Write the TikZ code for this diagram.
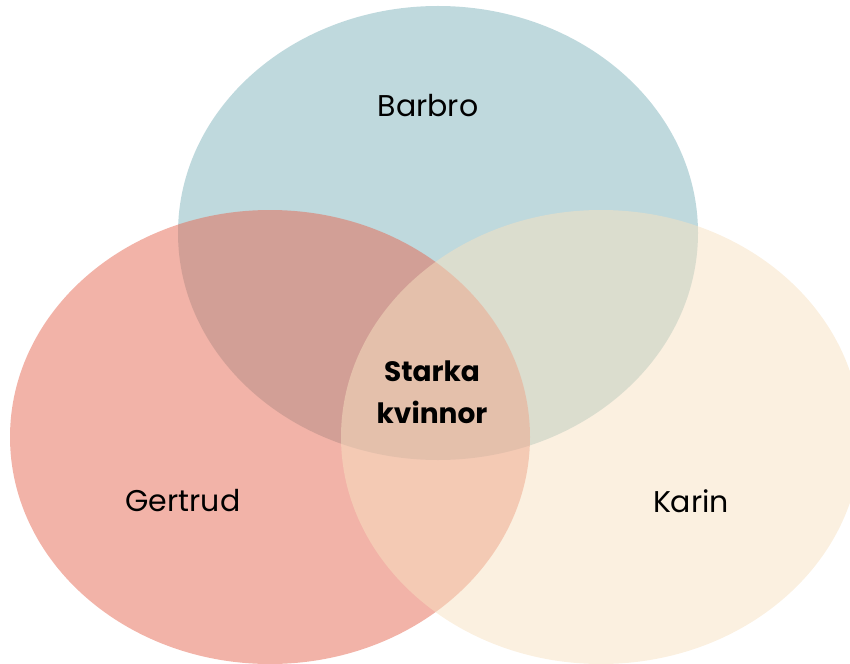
\documentclass[tikz,border=0pt]{standalone}
\usepackage{fontspec}
\setmainfont{Poppins}
\definecolor{cblue}{RGB}{191,217,221}
\definecolor{cred}{RGB}{229,103,81}
\definecolor{ccream}{RGB}{247,225,193}
\tikzset{
  venn/.style={draw=none},
  lbl/.style={font=\fontsize{30}{34}\selectfont, text=black, inner sep=0pt},
  clbl/.style={font=\fontsize{28}{42}\selectfont\bfseries, text=black, align=center, inner sep=0pt},
}
\begin{document}
\begin{tikzpicture}[x=1pt,y=-1pt]
\useasboundingbox (0,0) rectangle (850,663);
\clip (0,0) rectangle (850,663);
\fill[venn, cblue] (438,233) ellipse [x radius=260, y radius=227];
\fill[venn, cred, fill opacity=0.5] (270,437) ellipse [x radius=260, y radius=227];
\fill[venn, ccream, fill opacity=0.5] (601,437) ellipse [x radius=260, y radius=227];
\node[lbl] (barbro) at (428,106) {Barbro};
\node[lbl] (gertrud) at (183,501) {Gertrud};
\node[lbl] (karin) at (691,501) {Karin};
\node[clbl] (center) at (432,392) {Starka\\kvinnor};
\end{tikzpicture}
\end{document}
